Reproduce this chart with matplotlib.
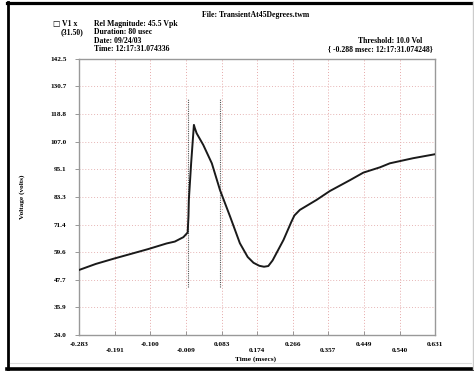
import matplotlib
matplotlib.use('Agg')
import matplotlib.pyplot as plt
from matplotlib.lines import Line2D

# waveform (msecs, volts)
time_ms = [-0.283, -0.240, -0.191, -0.150, -0.105, -0.058, -0.037, -0.015, -0.004,
           -0.002, -0.001, 0.005, 0.012, 0.014, 0.019, 0.036, 0.058, 0.079, 0.105,
           0.130, 0.150, 0.165, 0.180, 0.192, 0.203, 0.214, 0.242, 0.262, 0.270,
           0.284, 0.327, 0.361, 0.413, 0.447, 0.490, 0.515, 0.575, 0.631]
volts = [51.9, 54.5, 56.9, 58.8, 60.9, 63.3, 64.1, 66.0, 68.0,
         75.0, 82.0, 98.0, 114.2, 113.0, 110.6, 105.6, 97.7, 86.2, 74.8,
         63.4, 57.5, 55.0, 53.7, 53.3, 53.6, 56.0, 64.8, 72.5, 75.3,
         77.7, 82.0, 85.8, 90.5, 93.7, 96.0, 97.7, 99.9, 101.6]

# cursor markers
cursor_x = [-0.002, 0.080]
cursor_lo, cursor_hi = 44.6, 125.3

x_ticks = [-0.283, -0.191, -0.100, -0.009, 0.083, 0.174, 0.266, 0.357, 0.449, 0.540, 0.631]
y_ticks = [24.0, 35.9, 47.7, 59.6, 71.4, 83.3, 95.1, 107.0, 118.8, 130.7, 142.5]

serif = ['Liberation Serif', 'DejaVu Serif']
fs = 5.2
hfs = 5.6

fig = plt.figure(figsize=(4.74, 3.72), dpi=100)
ax = fig.add_axes([0.1667, 0.0995, 0.751, 0.742])

for xv in x_ticks:
    ax.axvline(xv, color='#e6a9a9', linestyle=(0, (1, 2)), linewidth=0.7, zorder=1)
for yv in y_ticks:
    ax.axhline(yv, color='#e6b5b5', linestyle=(0, (1, 2)), linewidth=0.7, zorder=1)

for cx in cursor_x:
    ax.plot([cx, cx], [cursor_lo, cursor_hi], color='#555555', linestyle=(0, (1, 1)),
            linewidth=0.8, zorder=2)

ax.plot(time_ms, volts, color='#1a1a1a', linewidth=1.4, zorder=3)

ax.set_xlim(x_ticks[0], x_ticks[-1])
ax.set_ylim(y_ticks[0], y_ticks[-1])
ax.set_yticks(y_ticks)
ax.set_yticklabels(['%.1f' % v for v in y_ticks], fontfamily=serif, fontsize=fs,
                   fontweight='bold')
ax.set_xticks(x_ticks)
labels = []
for i, v in enumerate(x_ticks):
    s = '%.3f' % v
    labels.append(s if i % 2 == 0 else '\n' + s)
ax.set_xticklabels(labels, fontfamily=serif, fontsize=fs, fontweight='bold',
                   linespacing=1.2)
ax.tick_params(axis='y', direction='out', length=3, width=0.6, color='#888888', pad=6)
ax.tick_params(axis='x', direction='in', length=3, width=0.6, color='#888888', pad=5)
for sp in ax.spines.values():
    sp.set_color('#999999')
    sp.set_linewidth(1.0)

ax.set_ylabel('Voltage (volts)', fontfamily=serif, fontsize=fs, fontweight='bold',
              labelpad=18)
fig.text(0.54, 0.035, 'Time (msecs)', ha='center', va='center', fontfamily=serif,
         fontsize=fs, fontweight='bold')

# header
hdr = dict(fontsize=hfs, fontweight='bold', va='center')
fig.text(0.54, 0.960, 'File: TransientAt45Degrees.twm', ha='center', fontfamily=serif, **hdr)
fig.text(0.110, 0.936, '\u25a1', ha='left', fontfamily=['DejaVu Sans'], fontsize=hfs, va='center')
fig.text(0.131, 0.936, 'V1 x', ha='left', fontfamily=serif, **hdr)
fig.text(0.128, 0.913, '(31.50)', ha='left', fontfamily=serif, **hdr)
fig.text(0.198, 0.936, 'Rel Magnitude: 45.5 Vpk', ha='left', fontfamily=serif, **hdr)
fig.text(0.198, 0.913, 'Duration: 80 usec', ha='left', fontfamily=serif, **hdr)
fig.text(0.198, 0.890, 'Date: 09/24/03', ha='left', fontfamily=serif, **hdr)
fig.text(0.198, 0.867, 'Time: 12:17:31.074336', ha='left', fontfamily=serif, **hdr)
fig.text(0.755, 0.890, 'Threshold: 10.0 Vol', ha='left', fontfamily=serif, **hdr)
fig.text(0.914, 0.867, '{ -0.288 msec: 12:17:31.074248}', ha='right', fontfamily=serif, **hdr)

# screenshot frame
H, W = 372.0, 474.0
fig.add_artist(Line2D([7 / W, 1], [1 - 2.5 / H] * 2, color='black', linewidth=2.3))
fig.add_artist(Line2D([8 / W] * 2, [1 - 2 / H, 3 / H], color='black', linewidth=2.0))
fig.add_artist(Line2D([7 / W, 1], [3.5 / H] * 2, color='black', linewidth=2.6))
fig.add_artist(Line2D([472.5 / W] * 2, [1 - 2 / H, 3 / H], color='#cccccc', linewidth=1.0))
fig.add_artist(Line2D([10 / W, 471 / W], [9.5 / H] * 2, color='#dddddd', linewidth=0.8))

fig.savefig('out.png', dpi=100)
plt.close(fig)
